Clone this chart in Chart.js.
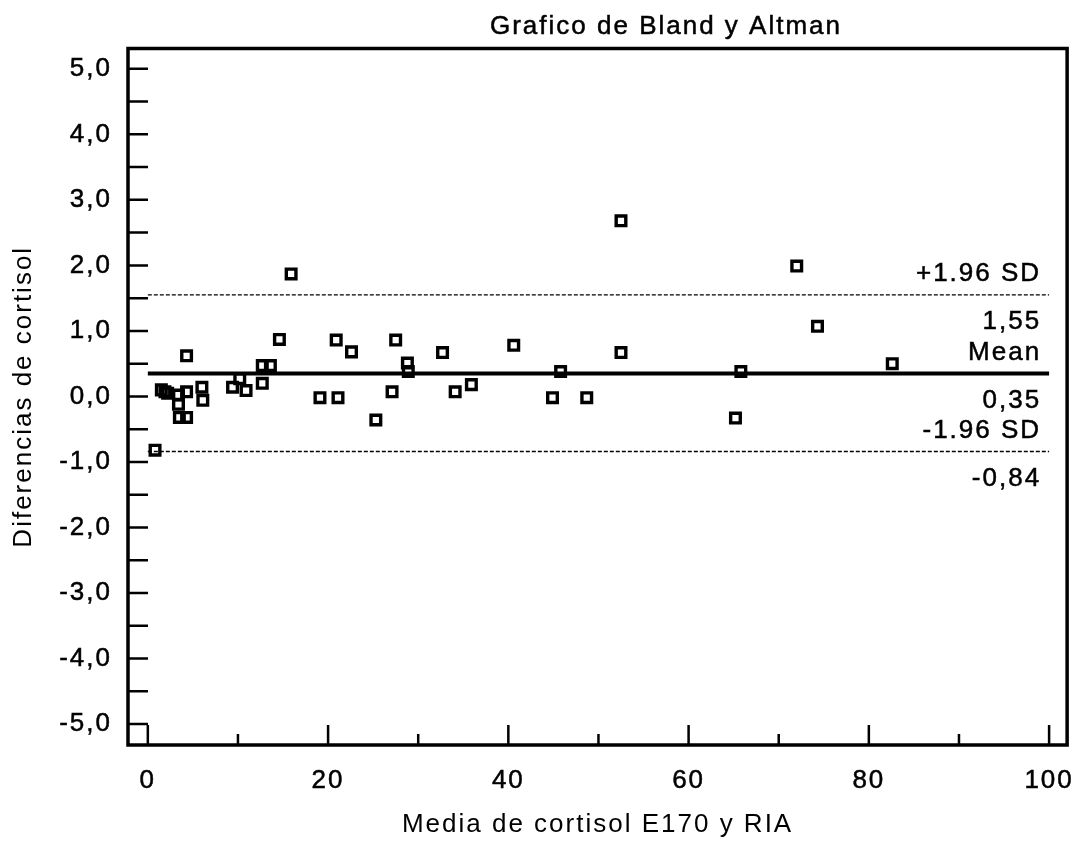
<!DOCTYPE html>
<html><head><meta charset="utf-8">
<script src="https://cdn.jsdelivr.net/npm/chart.js@4.4.1/dist/chart.umd.min.js"></script>
<style>html,body{margin:0;padding:0;background:#fff;}</style>
</head><body>
<canvas id="c" width="1083" height="842"></canvas>
<script>
const chartTitle = 'Grafico de Bland y Altman';
const xAxisTitle = 'Media de cortisol E170 y RIA';
const yAxisTitle = 'Diferencias de cortisol';

const meanX = [0.8,1.5,1.9,2.2,3.4,3.4,3.5,4.3,4.3,4.3,6.0,6.1,9.4,10.2,10.9,12.7,12.7,13.6,14.6,15.9,19.1,20.9,21.1,22.6,25.3,27.1,27.5,28.8,28.9,32.7,34.1,35.9,40.6,44.9,45.8,48.7,52.5,52.5,65.2,65.8,72.0,74.3,82.6];
const diffY = [-0.82,0.10,0.07,0.05,0.02,-0.12,-0.32,0.07,-0.32,0.62,0.14,-0.06,0.14,0.27,0.09,0.20,0.47,0.47,0.87,1.87,-0.02,0.86,-0.02,0.68,-0.36,0.07,0.86,0.51,0.38,0.67,0.07,0.18,0.78,-0.02,0.38,-0.02,2.68,0.67,-0.33,0.38,1.99,1.07,0.50];

const xTickValues = [0,20,40,60,80,100];
const xMinorTickValues = [10,30,50,70,90];
const yTickValues = [-5,-4,-3,-2,-1,0,1,2,3,4,5];
const yMinorTickValues = [-4.5,-3.5,-2.5,-1.5,-0.5,0.5,1.5,2.5,3.5,4.5];

const meanDiff = 0.35;
const upperLimit = 1.55;
const lowerLimit = -0.84;
const limitValues = [upperLimit, meanDiff, lowerLimit];
const limitNames = ['+1.96 SD','Mean','-1.96 SD'];
const limitValueLabels = ['1,55','0,35','-0,84'];
const lineStart = 0, lineEnd = 100;

const FONT = '"Liberation Sans", Arial, sans-serif';
const LS = '2px';

const points = meanX.map((x,i)=>({x:x,y:diffY[i]}));
const refLine = v => [{x:lineStart,y:v},{x:lineEnd,y:v}];

const decorPlugin = {
  id:'decor',
  beforeDraw(chart){
    const ctx = chart.ctx;
    ctx.letterSpacing = LS;
    ctx.save();
    ctx.fillStyle = '#fff';
    ctx.fillRect(0,0,chart.width,chart.height);
    ctx.restore();
  },
  afterDraw(chart){
    const ctx = chart.ctx, a = chart.chartArea;
    const xs = chart.scales.x, ys = chart.scales.y;
    ctx.save();
    ctx.letterSpacing = LS;
    ctx.strokeStyle = '#000';
    ctx.lineCap = 'butt';
    ctx.lineWidth = 3.5;
    ctx.strokeRect(a.left, a.top, a.right - a.left, a.bottom - a.top);
    ctx.lineWidth = 2.5;
    ctx.beginPath();
    xTickValues.forEach(v=>{const p=xs.getPixelForValue(v); ctx.moveTo(p,a.bottom); ctx.lineTo(p,a.bottom-20);});
    xMinorTickValues.forEach(v=>{const p=xs.getPixelForValue(v); ctx.moveTo(p,a.bottom); ctx.lineTo(p,a.bottom-11);});
    yTickValues.concat(yMinorTickValues).forEach(v=>{const p=ys.getPixelForValue(v); ctx.moveTo(a.left,p); ctx.lineTo(a.left+20,p);});
    ctx.stroke();
    ctx.fillStyle = '#000';
    ctx.strokeStyle = '#000';
    ctx.lineWidth = 0.5;
    ctx.font = '26px ' + FONT;
    ctx.textAlign = 'right';
    ctx.textBaseline = 'middle';
    const rx = xs.getPixelForValue(lineEnd) - 8;
    limitValues.forEach((v,i)=>{
      const p = ys.getPixelForValue(v);
      ctx.fillText(limitNames[i], rx, p - 21);
      ctx.strokeText(limitNames[i], rx, p - 21);
      ctx.fillText(limitValueLabels[i], rx, p + 27);
      ctx.strokeText(limitValueLabels[i], rx, p + 27);
    });
    ctx.textAlign = 'center';
    ctx.textBaseline = 'alphabetic';
    ctx.fillText(chartTitle, 666, 34);
    ctx.strokeText(chartTitle, 666, 34);
    ctx.restore();
  }
};

new Chart(document.getElementById('c'), {
  type:'scatter',
  data:{
    datasets:[
      {label:'diff', data:points, pointStyle:'rect', pointRadius:6.8, pointHoverRadius:6.8,
       borderColor:'#000', backgroundColor:'rgba(0,0,0,0)', borderWidth:3.4, showLine:false, order:1},
      {label:'mean', data:refLine(meanDiff), type:'line', borderColor:'#000', borderWidth:3.8, pointRadius:0, fill:false, order:2},
      {label:'upper', data:refLine(upperLimit), type:'line', borderColor:'#000', borderWidth:1.4, borderDash:[4,2], pointRadius:0, fill:false, order:2},
      {label:'lower', data:refLine(lowerLimit), type:'line', borderColor:'#000', borderWidth:1.4, borderDash:[4,2], pointRadius:0, fill:false, order:2}
    ]
  },
  options:{
    responsive:false,
    devicePixelRatio:1,
    animation:false,
    events:[],
    layout:{padding:{left:0, top:48.5, right:11, bottom:0}},
    plugins:{legend:{display:false}, tooltip:{enabled:false}, title:{display:false}},
    scales:{
      x:{
        type:'linear', min:-2.2, max:102,
        grid:{display:false}, border:{display:false},
        afterBuildTicks(s){ s.ticks = xTickValues.map(v=>({value:v})); },
        afterFit(s){ s.height = 97; },
        ticks:{color:'#000', font:{family:FONT,size:26}, padding:12, maxRotation:0, autoSkip:false,
          textStrokeColor:'#000', textStrokeWidth:0.5,
          callback:v=>String(v)},
        title:{display:true, text:xAxisTitle, color:'#000', font:{family:FONT,size:26}, padding:{top:0,bottom:2}}
      },
      y:{
        type:'linear', min:-5.32, max:5.31,
        grid:{display:false}, border:{display:false},
        afterBuildTicks(s){ s.ticks = yTickValues.map(v=>({value:v})); },
        afterFit(s){ s.width = 128; },
        ticks:{color:'#000', font:{family:FONT,size:26}, padding:8, autoSkip:false,
          textStrokeColor:'#000', textStrokeWidth:0.5,
          callback:v=>v.toFixed(1).replace('.',',')},
        title:{display:true, text:yAxisTitle, color:'#000', font:{family:FONT,size:26}, padding:{top:8,bottom:0}}
      }
    }
  },
  plugins:[decorPlugin]
});
</script>
</body></html>
